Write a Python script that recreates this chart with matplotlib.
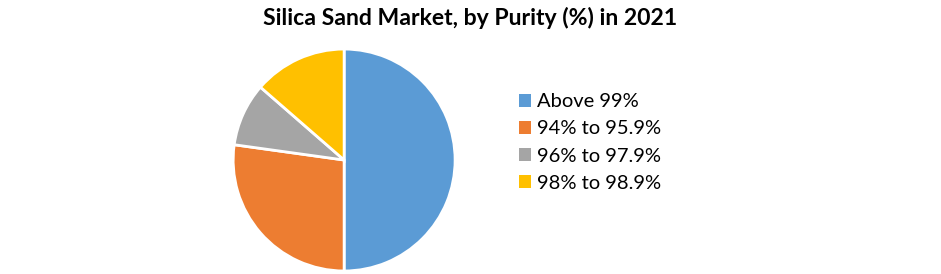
import matplotlib
matplotlib.use('Agg')
import matplotlib.pyplot as plt
from matplotlib.patches import Patch

plt.rcParams['font.family'] = ['Lato', 'DejaVu Sans']

labels = ['Above 99%', '94% to 95.9%', '96% to 97.9%', '98% to 98.9%']
shares = [50.0, 27.2, 9.2, 13.6]
colors = ['#5b9bd5', '#ed7d31', '#a5a5a5', '#ffc000']

fig = plt.figure(figsize=(9.41, 2.74), dpi=100)
fig.suptitle('Silica Sand Market, by Purity (%) in 2021', x=0.5, y=0.975,
             fontsize=16.6, fontweight='bold')

ax = fig.add_axes([0.2477, 0.011, 0.236, 0.810])
ax.pie(shares, colors=colors, startangle=90, counterclock=False,
       wedgeprops=dict(edgecolor='white', linewidth=2))
ax.set_xlim(-1.0, 1.0)
ax.set_ylim(-1.0, 1.0)
ax.set_aspect('equal')
ax.axis('off')

handles = [Patch(facecolor=c, edgecolor='none') for c in colors]
fig.legend(handles, labels, loc='center left', bbox_to_anchor=(0.5515, 0.48),
           frameon=False, fontsize=14.5, handlelength=0.6, handleheight=0.6,
           handletextpad=0.3, labelspacing=0.5, borderpad=0, borderaxespad=0)

fig.savefig('out.png', dpi=100)
